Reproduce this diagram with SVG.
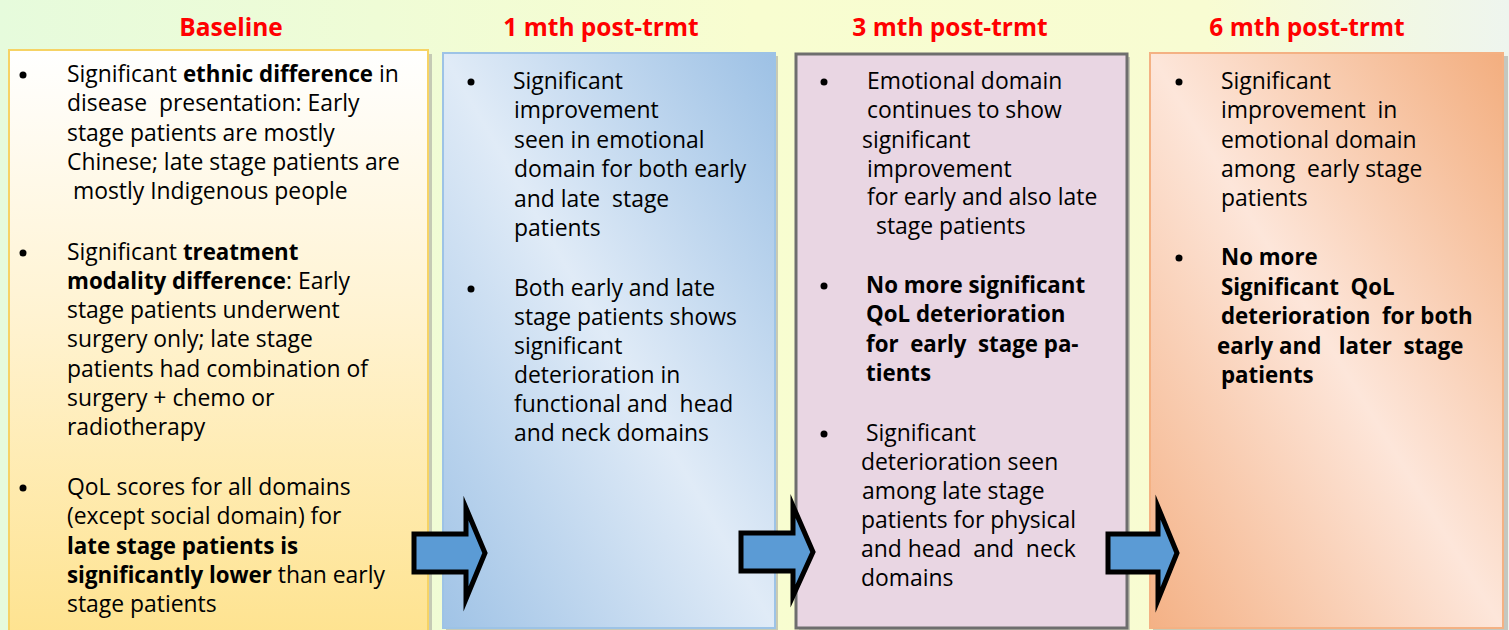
<svg xmlns="http://www.w3.org/2000/svg" width="1509" height="630" viewBox="0 0 1509 630">
<defs>
<linearGradient id="bg" x1="0" y1="0" x2="1" y2="0">
<stop offset="0" stop-color="#e6fbdc"/>
<stop offset="0.5" stop-color="#f8fdd0"/>
<stop offset="0.8" stop-color="#f8fcd2"/>
<stop offset="1" stop-color="#eef5ee"/>
</linearGradient>
<linearGradient id="g1" x1="0" y1="0" x2="0" y2="1">
<stop offset="0" stop-color="#ffffff"/>
<stop offset="0.45" stop-color="#fff3d2"/>
<stop offset="1" stop-color="#fee390"/>
</linearGradient>
<linearGradient id="g2" x1="1" y1="0" x2="0" y2="1">
<stop offset="0" stop-color="#9dc1e5"/>
<stop offset="0.5" stop-color="#e0ebf7"/>
<stop offset="1" stop-color="#a0c3e6"/>
</linearGradient>
<linearGradient id="g4" x1="1" y1="0" x2="0" y2="1">
<stop offset="0" stop-color="#f3ae7f"/>
<stop offset="0.5" stop-color="#fde6da"/>
<stop offset="1" stop-color="#f4b185"/>
</linearGradient>
<style>
.t{font-family:"Open Sans","Liberation Sans",sans-serif;font-size:22.9px;fill:#000}
.b{font-weight:bold;font-size:22.3px}
.h{font-family:"Open Sans","Liberation Sans",sans-serif;font-size:24.5px;font-weight:bold;fill:#ff0000;text-anchor:middle}
.sh{fill:#a9a9a0;opacity:0.6}
.arrow{fill:#5b9bd5;stroke:#000;stroke-width:5;stroke-linejoin:miter;stroke-miterlimit:10}
</style>
</defs>
<rect x="0" y="0" width="1509" height="630" fill="url(#bg)"/>

<g id="headers">
<text class="h" x="231" y="36">Baseline</text>
<text class="h" x="601" y="36">1 mth post-trmt</text>
<text class="h" x="950" y="36">3 mth post-trmt</text>
<text class="h" x="1307" y="36">6 mth post-trmt</text>
</g>

<g id="node-baseline">
<rect class="sh" x="13" y="54" width="419" height="580"/>
<rect x="9" y="50" width="419" height="585" fill="url(#g1)" stroke="#f6d365" stroke-width="2"/>
<circle cx="23" cy="75" r="3.5"/>
<text class="t" xml:space="preserve"><tspan x="67" y="82">Significant <tspan class="b">ethnic difference</tspan> in</tspan><tspan x="67" y="111">disease  presentation: Early</tspan><tspan x="67" y="141">stage patients are mostly</tspan><tspan x="67" y="170">Chinese; late stage patients are</tspan><tspan x="67" y="199"> mostly Indigenous people</tspan></text>
<circle cx="23" cy="253" r="3.5"/>
<text class="t" xml:space="preserve"><tspan x="67" y="260">Significant <tspan class="b">treatment</tspan></tspan><tspan x="67" y="289"><tspan class="b">modality difference</tspan>: Early</tspan><tspan x="67" y="318">stage patients underwent</tspan><tspan x="67" y="347">surgery only; late stage</tspan><tspan x="67" y="377">patients had combination of</tspan><tspan x="67" y="406">surgery + chemo or</tspan><tspan x="67" y="435">radiotherapy</tspan></text>
<circle cx="23" cy="488" r="3.5"/>
<text class="t" xml:space="preserve"><tspan x="67" y="495">QoL scores for all domains</tspan><tspan x="67" y="524">(except social domain) for</tspan><tspan x="67" y="554" class="b">late stage patients is</tspan><tspan x="67" y="583"><tspan class="b">significantly lower</tspan> than early</tspan><tspan x="67" y="612">stage patients</tspan></text>
</g>

<g id="node-1mth">
<rect class="sh" x="446" y="56" width="332" height="575"/>
<rect x="443" y="53" width="332" height="575" fill="url(#g2)" stroke="#9dc3e6" stroke-width="2"/>
<circle cx="471" cy="82" r="3.5"/>
<text class="t" xml:space="preserve"><tspan x="513" y="89">Significant</tspan><tspan x="514" y="118">improvement</tspan><tspan x="514" y="148">seen in emotional</tspan><tspan x="514" y="177">domain for both early</tspan><tspan x="514" y="207">and late  stage</tspan><tspan x="514" y="236">patients</tspan></text>
<circle cx="471" cy="289" r="3.5"/>
<text class="t" xml:space="preserve"><tspan x="514" y="296">Both early and late</tspan><tspan x="514" y="325">stage patients shows</tspan><tspan x="514" y="354">significant</tspan><tspan x="514" y="383">deterioration in</tspan><tspan x="514" y="412">functional and  head</tspan><tspan x="514" y="441">and neck domains</tspan></text>
</g>

<g id="node-3mth">
<rect class="sh" x="799" y="57" width="331" height="575"/>
<rect x="796" y="54" width="331" height="574" fill="#e9d6e3" stroke="#6e6e6e" stroke-width="3"/>
<circle cx="824" cy="82" r="3.5"/>
<text class="t" xml:space="preserve"><tspan x="867" y="89">Emotional domain</tspan><tspan x="867" y="118">continues to show</tspan><tspan x="862" y="148">significant</tspan><tspan x="867" y="177">improvement</tspan><tspan x="867" y="205">for early and also late</tspan><tspan x="876" y="234">stage patients</tspan></text>
<circle cx="824" cy="286" r="3.5"/>
<text class="t b" xml:space="preserve"><tspan x="866" y="293">No more significant</tspan><tspan x="866" y="322">QoL deterioration</tspan><tspan x="866" y="352">for  early  stage pa-</tspan><tspan x="866" y="381">tients</tspan></text>
<circle cx="824" cy="434" r="3.5"/>
<text class="t" xml:space="preserve"><tspan x="866" y="441">Significant</tspan><tspan x="861" y="470">deterioration seen</tspan><tspan x="862" y="499">among late stage</tspan><tspan x="861" y="528">patients for physical</tspan><tspan x="861" y="557">and head  and  neck</tspan><tspan x="861" y="586">domains</tspan></text>
</g>

<g id="node-6mth">
<rect class="sh" x="1153" y="56" width="355" height="575"/>
<rect x="1150" y="53" width="353" height="575" fill="url(#g4)" stroke="#f4b183" stroke-width="2"/>
<circle cx="1179" cy="82" r="3.5"/>
<text class="t" xml:space="preserve"><tspan x="1221" y="89">Significant</tspan><tspan x="1221" y="118">improvement  in</tspan><tspan x="1221" y="148">emotional domain</tspan><tspan x="1221" y="177">among  early stage</tspan><tspan x="1221" y="206">patients</tspan></text>
<circle cx="1179" cy="258" r="3.5"/>
<text class="t b" xml:space="preserve"><tspan x="1221" y="265">No more</tspan><tspan x="1221" y="295">Significant  QoL</tspan><tspan x="1221" y="324">deterioration  for both</tspan><tspan x="1217" y="354">early and   later  stage</tspan><tspan x="1221" y="383">patients</tspan></text>
</g>

<g id="connectors">
<path class="arrow" d="M414,534 H466 V508 L485,553 L466,599 V572 H414 Z"/>
<path class="arrow" d="M741,533 H793 V506 L813,552 L793,596 V571 H741 Z"/>
<path class="arrow" d="M1108,534 H1158 V507 L1177,553 L1158,600 V572 H1108 Z"/>
</g>
</svg>
